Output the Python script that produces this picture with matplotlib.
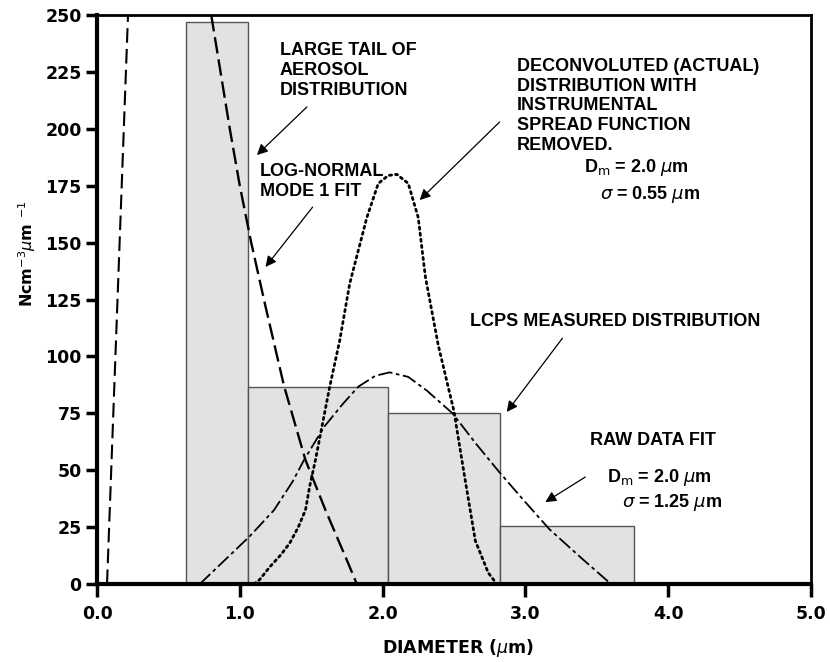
import matplotlib
matplotlib.use("Agg")
import matplotlib.pyplot as plt

# histogram bins (LCPS measured distribution)
bin_left = [0.62, 1.06, 2.04, 2.82]
bin_right = [1.06, 2.04, 2.82, 3.76]
bin_height = [247, 86.7, 75, 25.5]

# log-normal mode 1 fit (rising and falling legs)
mode1_rise_x = [0.07, 0.217]
mode1_rise_y = [0, 250]
mode1_fall_x = [0.80, 0.93, 1.00, 1.08, 1.18, 1.31, 1.46, 1.60, 1.75, 1.82]
mode1_fall_y = [250, 200, 175, 150, 122, 87, 54.5, 32.5, 10.5, 0]

# deconvoluted distribution (dotted)
dec_x = [1.10, 1.14, 1.21, 1.29, 1.35, 1.41, 1.46, 1.49, 1.53, 1.63, 1.70, 1.77, 1.89, 1.97,
         2.04, 2.10, 2.18, 2.25, 2.30, 2.39, 2.50, 2.57, 2.65, 2.74, 2.80]
dec_y = [0, 2, 7.5, 13, 18, 25, 32.5, 43, 54.5, 86.7, 107, 132, 161, 176,
         179.5, 180, 176, 161, 135, 105, 76, 49, 19, 5, 0]

# raw data fit (dash-dot)
raw_x = [0.72, 1.07, 1.24, 1.37, 1.45, 1.59, 1.72, 1.83, 1.95, 2.05, 2.18, 2.31, 2.49,
         2.65, 2.82, 3.00, 3.17, 3.40, 3.60]
raw_y = [0, 21, 32.5, 45, 54.5, 69, 79, 86.7, 91.5, 93, 91, 85, 75, 62, 49, 36, 24, 11, 0]

x_ticks = [0.0, 1.0, 2.0, 3.0, 4.0, 5.0]
y_ticks = [0, 25, 50, 75, 100, 125, 150, 175, 200, 225, 250]

fig = plt.figure(figsize=(8.3, 6.62), dpi=100)
ax = fig.add_axes([0.1169, 0.1178, 0.860, 0.8595])

for l, r, h in zip(bin_left, bin_right, bin_height):
    ax.bar(l, h, width=r - l, align="edge", color="#e2e2e2", edgecolor="#555555", linewidth=1.0, zorder=1)

ax.plot(mode1_rise_x, mode1_rise_y, color="black", lw=1.5, linestyle=(0, (7, 3)), zorder=3)
ax.plot(mode1_fall_x, mode1_fall_y, color="black", lw=1.7, linestyle=(0, (7, 2.5)), zorder=3)
ax.plot(dec_x, dec_y, color="black", lw=2.0, linestyle=(0, (0.8, 1.4)), dash_capstyle="round", zorder=3)
ax.plot(raw_x, raw_y, color="black", lw=1.3, linestyle=(0, (8, 2, 2, 2)), zorder=3)

ax.set_xlim(0, 5)
ax.set_ylim(0, 250)
ax.set_xticks(x_ticks)
ax.set_xticklabels([f"{v:.1f}" for v in x_ticks])
ax.set_yticks(y_ticks)

tick_font = dict(family="DejaVu Sans", weight="bold", size=12.5)
for lab in ax.get_xticklabels() + ax.get_yticklabels():
    lab.set_fontproperties(matplotlib.font_manager.FontProperties(**tick_font))

ax.tick_params(axis="y", direction="out", length=8, width=2.5, pad=3)
ax.tick_params(axis="x", direction="out", length=9, width=2.5, pad=6)
ax.spines["left"].set_linewidth(3)
ax.spines["bottom"].set_linewidth(3)
ax.spines["top"].set_linewidth(2)
ax.spines["right"].set_linewidth(2)

ax.set_xlabel(r"DIAMETER ($\mu$m)", fontsize=12.5, fontweight="bold", family="DejaVu Sans", va="top")
ax.xaxis.set_label_coords(0.506, -0.093)
ax.set_ylabel(r"Ncm$^{-3}$$\mu$m $^{-1}$", fontsize=11.5, fontweight="bold", family="DejaVu Sans")
ax.yaxis.set_label_coords(-0.082, 0.58)

txt = dict(family="Liberation Sans", weight="bold", fontsize=13, linespacing=1.2, va="top", ha="left")
ax.text(1.28, 238, "LARGE TAIL OF\nAEROSOL\nDISTRIBUTION", **txt)
ax.text(1.14, 185, "LOG-NORMAL\nMODE 1 FIT", **txt)
ax.text(2.94, 231, "DECONVOLUTED (ACTUAL)\nDISTRIBUTION WITH\nINSTRUMENTAL\nSPREAD FUNCTION\nREMOVED.", **txt)
ax.text(2.61, 119, "LCPS MEASURED DISTRIBUTION", **txt)
ax.text(3.45, 67, "RAW DATA FIT", **txt)

par = dict(family="Liberation Sans", weight="bold", fontsize=13, va="center", ha="left")
ax.text(3.41, 182.8, r"D$_\mathrm{m}$ = 2.0 $\mu$m", **par)
ax.text(3.52, 171, r"$\sigma$ = 0.55 $\mu$m", **par)
ax.text(3.57, 47, r"D$_\mathrm{m}$ = 2.0 $\mu$m", **par)
ax.text(3.68, 35.6, r"$\sigma$ = 1.25 $\mu$m", **par)

arrow = dict(arrowstyle="-|>", color="black", lw=0.9, mutation_scale=16, shrinkA=0, shrinkB=0)
ax.annotate("", xy=(1.12, 188.5), xytext=(1.47, 209.6), arrowprops=arrow)
ax.annotate("", xy=(1.18, 139.3), xytext=(1.51, 165.6), arrowprops=arrow)
ax.annotate("", xy=(2.26, 168.7), xytext=(2.82, 203), arrowprops=arrow)
ax.annotate("", xy=(2.87, 75.6), xytext=(3.26, 108), arrowprops=arrow)
ax.annotate("", xy=(3.14, 36), xytext=(3.42, 47), arrowprops=arrow)

fig.savefig("out.png", dpi=100)
